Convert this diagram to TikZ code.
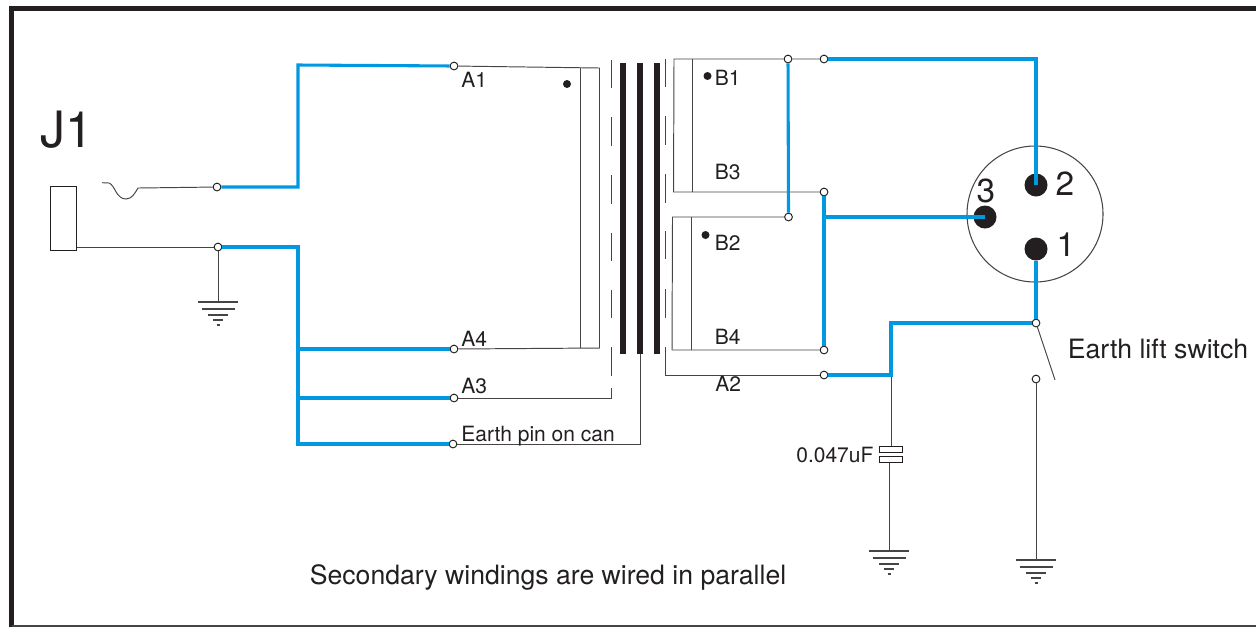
\documentclass[tikz,border=0pt]{standalone}
\usepackage{fontspec}
\setmainfont{TeX Gyre Heros}
\usepackage{tikz}
\usetikzlibrary{arrows.meta,positioning}
\definecolor{wireblue}{RGB}{0,152,224}
\definecolor{inkblack}{RGB}{35,31,32}
\definecolor{wiregrey}{RGB}{70,68,68}
\tikzset{
  wire/.style={wiregrey, line width=0.55pt},
  bluewire/.style={wireblue, line width=1.75pt},
  terminal/.style={circle, draw=inkblack, fill=white, line width=0.55pt, inner sep=0pt, minimum size=0.155cm},
  pin/.style={circle, fill=inkblack, inner sep=0pt, minimum size=0.46cm},
  smalldot/.style={circle, fill=inkblack, inner sep=0pt, minimum size=0.16cm},
  lbl/.style={inner sep=0pt, anchor=base west, text=inkblack, font=\fontsize{11.95pt}{14pt}\selectfont},
  biglbl/.style={inner sep=0pt, anchor=base west, text=inkblack, font=\fontsize{15.15pt}{18pt}\selectfont},
  pinlbl/.style={inner sep=0pt, anchor=base, text=inkblack, font=\fontsize{19pt}{22pt}\selectfont},
}
\begin{document}
\begin{tikzpicture}[x=0.02cm,y=-0.02cm]
\useasboundingbox (0,0) rectangle (1256,627);
% Frame
\draw[inkblack, line width=2.9pt] (11.5,627) -- (11.5,8.5) -- (1256,8.5);
\draw[wiregrey, line width=0.9pt] (11.5,626) -- (1256,626);
% Terminals
\node[terminal] (tTip) at (217,187) {};
\node[terminal] (tSleeve) at (218,247) {};
\node[terminal] (tAone) at (454,66) {};
\node[terminal] (tAfour) at (454,349) {};
\node[terminal] (tAthree) at (454,398) {};
\node[terminal] (tCan) at (453,444) {};
\node[terminal] (tBoneIn) at (788,59) {};
\node[terminal] (tBoneOut) at (824,59) {};
\node[terminal] (tBthree) at (824,192) {};
\node[terminal] (tBtwo) at (788.5,217) {};
\node[terminal] (tBfour) at (824,350) {};
\node[terminal] (tAtwo) at (824,375) {};
\node[terminal] (tSwitchTop) at (1036,323) {};
\node[terminal] (tSwitchLow) at (1036,379) {};
% Connector
\draw[wiregrey, line width=0.6pt] (1035,214) circle (68);
\node[pin] (pinTwo) at (1036,185) {};
\node[pin] (pinThree) at (985,217) {};
\node[pin] (pinOne) at (1036,249) {};
\node[pinlbl] (lblTwo) at (1065,195.7) {2};
\node[pinlbl] (lblThree) at (986,202) {3};
\node[pinlbl] (lblOne) at (1066,256) {1};
% Jack
\node[draw=inkblack, line width=0.6pt, inner sep=0pt, minimum width=0.51cm, minimum height=1.29cm] (jack) at (63.7,218.5) {};
\node[inner sep=0pt, anchor=base west, text=inkblack, font=\fontsize{28.5pt}{32pt}\selectfont] (lblJ) at (40,147) {J1};
\coordinate (sleeveOut) at (jack.east |- tSleeve);
\coordinate (tipEnd) at (138,188);
\draw[wire] (sleeveOut) -- (tSleeve);
\draw[wire] (102,182.7) -- (109,183) .. controls (115,185) and (116,199) .. (126,199) .. controls (132,199) and (135,193) .. (tipEnd) -- (tTip);
% Earth symbols
\foreach \x/\y in {218/302, 889/551, 1036/560} {
  \draw[wiregrey, line width=0.8pt] (\x-20,\y) -- (\x+20,\y);
  \draw[wiregrey, line width=0.8pt] (\x-16.5,\y+7) -- (\x+16.5,\y+7);
  \draw[wiregrey, line width=0.8pt] (\x-10,\y+13) -- (\x+10,\y+13);
  \draw[wiregrey, line width=0.8pt] (\x-5,\y+18) -- (\x+5,\y+18);
  \draw[wiregrey, line width=0.8pt] (\x-1.5,\y+23) -- (\x+1.5,\y+23);
}
\coordinate (gndJack) at (218,302);
\coordinate (gndCap) at (889,551);
\coordinate (gndSwitch) at (1036,560);
\draw[wire] (tSleeve) -- (gndJack);
\draw[wire] (tSwitchLow) -- (gndSwitch);
% Core
\foreach \x in {622.8,639.8,656.8} {
  \draw[inkblack, line width=3.1pt] (\x,63) -- (\x,354);
}
\foreach \a/\b in {60/88, 117/146, 175/204, 233/261, 290/318, 347/376} {
  \draw[wire] (611,\a) -- (611,\b);
}
\foreach \a/\b in {59/87, 116/145, 174/203, 231/259, 289/318} {
  \draw[wire] (665.7,\a) -- (665.7,\b);
}
\coordinate (coreFoot) at (640,354);
\coordinate (coreCan) at (640,444);
\coordinate (shieldAthree) at (611,398);
\coordinate (shieldAtwo) at (665.7,375);
\draw[wire] (611,387.5) -- (shieldAthree) -- (tAthree);
\draw[wire] (665.7,347) -- (shieldAtwo) -- (tAtwo);
\draw[wire] (coreFoot) -- (coreCan) -- (tCan);
% Primary winding
\coordinate (priTop) at (599.5,68);
\coordinate (priLow) at (599.5,348);
\draw[wire] (tAone) -- (priTop) -- (priLow) -- (tAfour);
\draw[wire] (580.5,67.5) -- (580.5,348);
\node[smalldot] (dotA) at (567,84) {};
% Secondary windings
\coordinate (secOneTop) at (674,59);
\coordinate (secOneLow) at (673.5,192);
\coordinate (secTwoTop) at (672.5,217);
\coordinate (secTwoLow) at (672,350);
\draw[wire] (tBoneOut) -- (tBoneIn) -- (secOneTop) -- (secOneLow) -- (tBthree);
\draw[wire] (tBtwo) -- (secTwoTop) -- (secTwoLow) -- (tBfour);
\draw[wire] (692.5,59) -- (692.5,192);
\draw[wire] (691,217) -- (691,350);
\node[smalldot] (dotBone) at (707.5,76) {};
\node[smalldot] (dotBtwo) at (705.5,235) {};
% Capacitor
\coordinate (capJoin) at (891,375);
\node[draw=inkblack, line width=0.55pt, inner sep=0pt, minimum width=0.46cm, minimum height=0.12cm] (capTop) at (890.8,449.3) {};
\node[draw=inkblack, line width=0.55pt, inner sep=0pt, minimum width=0.46cm, minimum height=0.12cm] (capLow) at (890.8,459.3) {};
\draw[wire] (capJoin) -- (capJoin |- capTop.north);
\draw[wire] (gndCap |- capLow.south) -- (gndCap);
% Switch
\coordinate (armEnd) at (1055,380);
\draw[wire] (tSwitchTop) -- (armEnd);
% Blue wiring
\coordinate (busTop) at (298,65);
\coordinate (busLow) at (298,444);
\coordinate (busAfour) at (298,349);
\coordinate (busAthree) at (298,398);
\coordinate (tapThree) at (824,217);
\coordinate (capUp) at (891,323);
\draw[bluewire] (tTip) -| (busTop) -- (tAone);
\draw[bluewire] (tSleeve) -| (busLow) -- (tCan);
\draw[bluewire] (busAfour) -- (tAfour);
\draw[bluewire] (busAthree) -- (tAthree);
\draw[bluewire] (tBoneIn) -- (tBtwo);
\draw[bluewire] (tBthree) -- (tBfour);
\draw[bluewire] (tapThree) -- (pinThree.center);
\draw[bluewire] (tBoneOut) -| (pinTwo.center);
\draw[bluewire] (pinOne) -- (tSwitchTop);
\draw[bluewire] (tSwitchTop) -- (capUp) -- (capJoin) -- (tAtwo);
% Labels
\node[lbl] (lblAone) at (461,87.7) {A1};
\node[lbl] (lblAfour) at (461,346.7) {A4};
\node[lbl] (lblAthree) at (461,393) {A3};
\node[lbl] (lblCan) at (461,441) {Earth pin on can};
\node[lbl] (lblBone) at (714.5,85.3) {B1};
\node[lbl] (lblBthree) at (714.5,179.3) {B3};
\node[lbl] (lblBtwo) at (714.5,250.7) {B2};
\node[lbl] (lblBfour) at (714.5,344.3) {B4};
\node[lbl] (lblAtwo) at (715,391.7) {A2};
\node[lbl] (lblCap) at (796,462) {0.047uF};
\node[biglbl] (lblSwitch) at (1067.5,358) {Earth lift switch};
\node[biglbl] (lblNote) at (309.5,584) {Secondary windings are wired in parallel};
\end{tikzpicture}
\end{document}
